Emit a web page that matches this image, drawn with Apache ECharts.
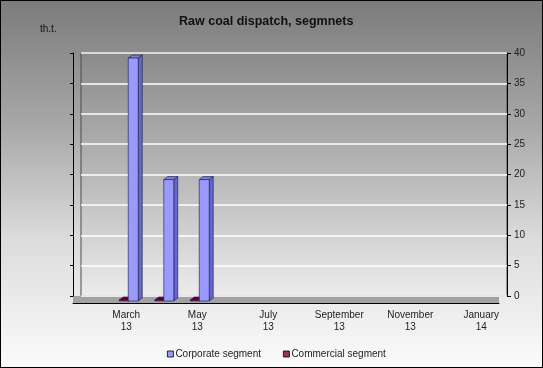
<!DOCTYPE html>
<html><head><meta charset="utf-8">
<script src="https://cdn.jsdelivr.net/npm/echarts@6/dist/echarts.min.js"></script>
<style>
html,body{margin:0;padding:0;}
#c{position:absolute;left:0;top:0;width:543px;height:368px;background:linear-gradient(to bottom,#7b7b7b 0%,#a9a9a9 35%,#dcdcdc 65%,#fbfbfb 100%);box-shadow:inset 0 0 0 1px #000;}
</style></head>
<body><div id="c"></div>
<script>
const categories = ['February 13','March 13','April 13','May 13','June 13','July 13','August 13','September 13','October 13','November 13','December 13','January 14'];
const corporate = [null,39,19,19,null,null,null,null,null,null,null,null];
const commercial = [null,0,0,0,null,null,null,null,null,null,null,null];
const yTicks = {min:0,max:40,interval:5};

const chart = echarts.init(document.getElementById('c'), null, {renderer:'canvas'});
const font = '"Liberation Sans", Arial, sans-serif';

function toData(arr){ const d=[]; arr.forEach((v,i)=>{ if(v!==null) d.push([i,v]); }); return d; }

function bar3d(offset, cFront, cSide, cTop){
  return function(params, api){
    const i = api.value(0), v = api.value(1);
    const p = api.coord([i, v]);
    const b = api.coord([i, 0]);
    const w = 10, dx = 4, dy = 3;
    const x0 = p[0] + offset - w/2, x1 = x0 + w;
    const yb = b[1] + 5;
    const yt = v > 0 ? p[1] - 1 : yb - 1;
    const st = {stroke:'#1a1a40', lineWidth:0.6};
    return {type:'group', children:[
      {type:'polygon', shape:{points:[[x1,yt],[x1+dx,yt-dy],[x1+dx,yb-dy],[x1,yb]]}, style:Object.assign({fill:cSide},st)},
      {type:'polygon', shape:{points:[[x0,yt],[x0+dx,yt-dy],[x1+dx,yt-dy],[x1,yt]]}, style:Object.assign({fill:cTop},st)},
      {type:'rect', shape:{x:x0,y:yt,width:w,height:yb-yt}, style:Object.assign({fill:cFront},st)}
    ]};
  };
}

chart.setOption({
  animation:false,
  title:[
    {text:'Raw coal dispatch, segmnets', left:174, top:10, textStyle:{fontFamily:font, fontSize:12.5, fontWeight:'bold', color:'#111'}},
    {text:'th.t.', left:35, top:19, textStyle:{fontFamily:font, fontSize:10, fontWeight:'normal', color:'#111'}}
  ],
  legend:{
    data:['Corporate segment','Commercial segment'],
    left:162, top:344, itemWidth:6, itemHeight:6, itemGap:22, icon:'rect',
    textStyle:{fontFamily:font, fontSize:10, color:'#222', padding:[0,0,0,-3]},
    itemStyle:{borderColor:'#000', borderWidth:0.8}
  },
  grid:[
    {left:81, right:36, top:53, bottom:72, show:true, borderWidth:1, borderColor:'#4a4a4a',
     backgroundColor:new echarts.graphic.LinearGradient(0,0,0,1,[{offset:0,color:'#8a8a8a'},{offset:0.5,color:'#b8b8b8'},{offset:1,color:'#ececec'}])},
    {left:73, right:44, top:296, bottom:65, show:true, borderWidth:0, backgroundColor:'#a2a2a2'}
  ],
  xAxis:[
    {gridIndex:0, type:'category', data:categories, show:false},
    {gridIndex:1, type:'category', data:categories, boundaryGap:true,
     axisLine:{lineStyle:{color:'#000', width:1}},
     axisTick:{interval:0, length:3, lineStyle:{color:'#000'}},
     axisLabel:{interval:(idx)=>idx%2===1, formatter:(s)=>s.replace(' ','\n'), fontFamily:font, fontSize:10, color:'#222', lineHeight:12, margin:6}}
  ],
  yAxis:[
    {gridIndex:0, type:'value', position:'right', min:yTicks.min, max:yTicks.max, interval:yTicks.interval,
     axisLine:{show:true, lineStyle:{color:'#000', width:1}},
     axisTick:{show:true, length:4, lineStyle:{color:'#000'}},
     axisLabel:{fontFamily:font, fontSize:10, color:'#222', margin:7},
     splitLine:{show:true, lineStyle:{color:'#ffffff', width:1.5}}},
    {gridIndex:0, type:'value', position:'left', offset:8, min:yTicks.min, max:yTicks.max, interval:yTicks.interval,
     axisLine:{show:true, lineStyle:{color:'#000', width:1}},
     axisTick:{show:true, length:3, lineStyle:{color:'#000'}},
     axisLabel:{show:false}, splitLine:{show:false}},
    {gridIndex:1, type:'value', show:false}
  ],
  series:[
    {name:'Commercial segment', type:'custom', xAxisIndex:0, yAxisIndex:0, clip:false, z:3,
     itemStyle:{color:'#993366'}, encode:{x:0,y:1}, data:toData(commercial),
     renderItem:bar3d(-10,'#993366','#4d1a33','#660033')},
    {name:'Corporate segment', type:'custom', xAxisIndex:0, yAxisIndex:0, clip:false, z:4,
     itemStyle:{color:'#9999FF'}, encode:{x:0,y:1}, data:toData(corporate),
     renderItem:bar3d(-1,'#9999FF','#6666CC','#7f7fdd')}
  ]
});
</script></body></html>
